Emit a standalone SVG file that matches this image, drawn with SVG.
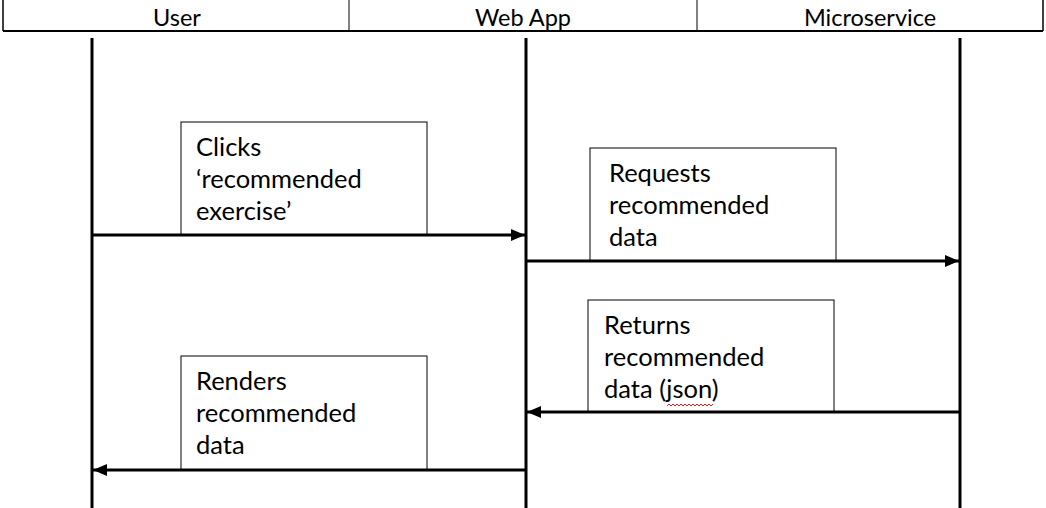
<svg xmlns="http://www.w3.org/2000/svg" width="1046" height="508" viewBox="0 0 1046 508">
<style>
.hdr{font-family:Lato,"Liberation Sans",sans-serif;font-size:23.5px;fill:#000;text-anchor:middle}
.lbl{font-family:Lato,"Liberation Sans",sans-serif;font-size:25.5px;fill:#000}
.box{fill:#fff;stroke:#000;stroke-width:1}
.life{stroke:#000;stroke-width:3}
.msg{stroke:#000;stroke-width:3;fill:none}
</style>
<defs>
<marker id="ah" markerWidth="14" markerHeight="12" refX="14" refY="6" orient="auto" markerUnits="userSpaceOnUse">
<path d="M0,0 L14,6 L0,12 Z" fill="#000"/>
</marker>
</defs>
<rect width="1046" height="508" fill="#fff"/>
<g id="header">
<line x1="3" y1="0" x2="3" y2="31" stroke="#000" stroke-width="1.5"/>
<line x1="349" y1="0" x2="349" y2="31" stroke="#000" stroke-width="1"/>
<line x1="697" y1="0" x2="697" y2="31" stroke="#000" stroke-width="1"/>
<line x1="1043" y1="0" x2="1043" y2="31" stroke="#000" stroke-width="1.5"/>
<line x1="3" y1="31" x2="1043" y2="31" stroke="#000" stroke-width="2"/>
<text class="hdr" x="177" y="26">User</text>
<text class="hdr" x="523" y="26">Web App</text>
<text class="hdr" x="870" y="26">Microservice</text>
</g>
<g id="lifelines">
<line class="life" x1="92" y1="38" x2="92" y2="508"/>
<line class="life" x1="526" y1="38" x2="526" y2="508"/>
<line class="life" x1="960" y1="38" x2="960" y2="508"/>
</g>
<g id="note1">
<rect class="box" x="181" y="122" width="246" height="113"/>
<text class="lbl" x="196" y="156">Clicks</text>
<text class="lbl" x="196" y="188">‘recommended</text>
<text class="lbl" x="196" y="220">exercise’</text>
</g>
<g id="note2">
<rect class="box" x="590" y="148" width="246" height="113"/>
<text class="lbl" x="609" y="182">Requests</text>
<text class="lbl" x="609" y="214">recommended</text>
<text class="lbl" x="609" y="246">data</text>
</g>
<g id="note3">
<rect class="box" x="588" y="300" width="246" height="112"/>
<text class="lbl" x="604" y="334">Returns</text>
<text class="lbl" x="604" y="366">recommended</text>
<text class="lbl" x="604" y="398">data (json)</text>
<path d="M667,406 l2,-2 l2,2 l2,-2 l2,2 l2,-2 l2,2 l2,-2 l2,2 l2,-2 l2,2 l2,-2 l2,2 l2,-2 l2,2 l2,-2 l2,2 l2,-2 l2,2 l2,-2 l2,2 l2,-2 l2,2 l2,-2" fill="none" stroke="#e02020" stroke-width="1"/>
</g>
<g id="note4">
<rect class="box" x="181" y="356" width="246" height="114"/>
<text class="lbl" x="196" y="390">Renders</text>
<text class="lbl" x="196" y="422">recommended</text>
<text class="lbl" x="196" y="454">data</text>
</g>
<g id="connectors">
<line class="msg" x1="92" y1="235" x2="525" y2="235" marker-end="url(#ah)"/>
<line class="msg" x1="526" y1="261" x2="959" y2="261" marker-end="url(#ah)"/>
<line class="msg" x1="960" y1="412" x2="527" y2="412" marker-end="url(#ah)"/>
<line class="msg" x1="526" y1="470" x2="93" y2="470" marker-end="url(#ah)"/>
</g>
</svg>
